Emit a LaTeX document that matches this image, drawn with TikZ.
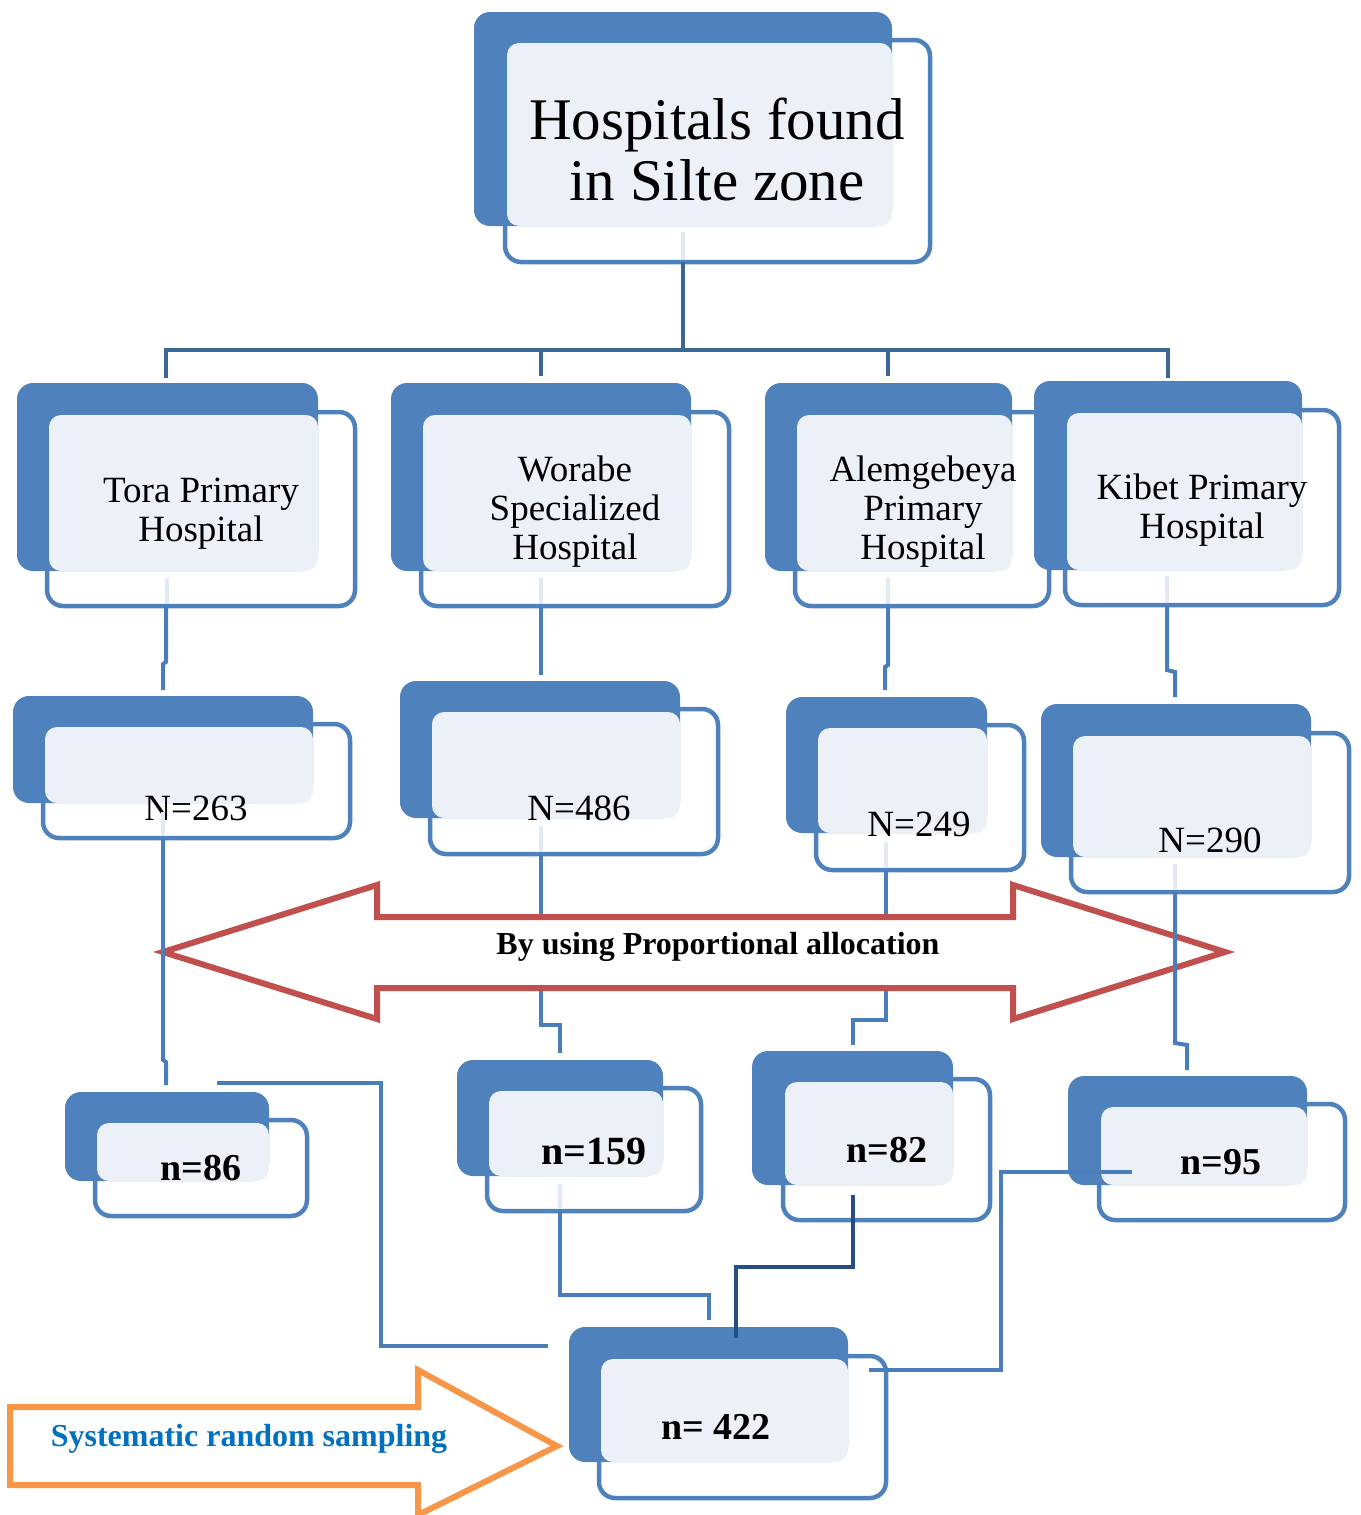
\documentclass[tikz,border=0pt]{standalone}
\usepackage{fontspec}
\setmainfont{Liberation Serif}
\definecolor{accent}{HTML}{4F81BD}
\definecolor{lightbg}{HTML}{ECF1F8}
\definecolor{faint}{HTML}{E2E9F3}
\definecolor{conn}{HTML}{4A7EBB}
\definecolor{conndark}{HTML}{3B6797}
\definecolor{conndeep}{HTML}{254E85}
\definecolor{redarrow}{HTML}{C0504D}
\definecolor{orangearrow}{HTML}{F79646}
\definecolor{textblue}{HTML}{0070C0}
\newcommand\pairbox[9]{%
  \node[obox, minimum width={(#8-#6)*1pt}, minimum height={(#9-#7)*1pt}, anchor=north west] (#1) at (#6,#7) {};
  \node[dbox, minimum width={(#4-#2)*1pt}, minimum height={(#5-#3)*1pt}, anchor=north west] (#1-d) at (#2,#3) {};
  \fill[lightbg, rounded corners=12pt] (#6+2,#7+3) rectangle (#4,#5);
}
\begin{document}
\begin{tikzpicture}[x=1pt,y=-1pt,
  obox/.style={draw=accent, line width=4.5pt, fill=white, rounded corners=16pt, inner sep=0pt, outer sep=0pt},
  dbox/.style={fill=accent, draw=none, rounded corners=16pt, inner sep=0pt, outer sep=0pt},
  connector/.style={draw=conn, line width=4pt},
  connectortop/.style={draw=conndark, line width=4pt},
  faintseg/.style={draw=faint, line width=4pt},
  txt/.style={inner sep=0pt, outer sep=0pt, text=black},
  hosp/.style={txt, font=\fontsize{37}{39}\selectfont, align=center, anchor=base},
  bign/.style={txt, font=\fontsize{37}{39}\selectfont, anchor=base},
  smalln/.style={txt, font=\bfseries\fontsize{38}{40}\selectfont, anchor=base},
  bigarrow/.style={line width=6pt, fill=white, line join=miter}
]
\useasboundingbox (0,0) rectangle (1360,1515);

% ---------- top level ----------
\pairbox{top}{474}{12}{892}{226}{505}{40}{930}{262}
\node[txt, font=\fontsize{59}{61}\selectfont, align=center, anchor=base] (top-t) at (717,200) {Hospitals found\\in Silte zone};
\draw[faintseg] (683,232) -- (683,260);

% ---------- hospitals ----------
\pairbox{tora}{17}{383}{318}{571}{47}{412}{355}{606}
\pairbox{worabe}{391}{383}{691}{571}{421}{412}{729}{606}
\pairbox{alem}{765}{383}{1012}{571}{795}{412}{1049}{606}
\pairbox{kibet}{1034}{381}{1302}{570}{1065}{410}{1339}{605}
\node[hosp] (tora-t) at (201,541) {Tora Primary\\Hospital};
\node[hosp] (worabe-t) at (575,559) {Worabe\\Specialized\\Hospital};
\node[hosp] (alem-t) at (923,559) {Alemgebeya\\Primary\\Hospital};
\node[hosp] (kibet-t) at (1202,538) {Kibet Primary\\Hospital};
\draw[faintseg] (167,578) -- (167,604);
\draw[faintseg] (541,578) -- (541,604);
\draw[faintseg] (888,578) -- (888,604);
\draw[faintseg] (1167,576) -- (1167,603);

% top tree
\coordinate (bar) at (683,350);
\draw[connectortop] (683,262) -- (bar);
\draw[connectortop, line cap=rect] (166,376) |- (1168,350) -- (1168,376);
\draw[connectortop] (541,350) -- (541,376);
\draw[connectortop] (888,350) -- (888,376);

% ---------- N boxes ----------
\pairbox{n263}{13}{696}{313}{803}{43}{724}{350}{838}
\pairbox{n486}{400}{681}{680}{818}{430}{709}{718}{854}
\pairbox{n249}{786}{697}{987}{833}{816}{725}{1024}{870}
\pairbox{n290}{1041}{704}{1311}{857}{1071}{733}{1349}{892}
\node[bign] (n263-t) at (196,820) {N=263};
\node[bign] (n486-t) at (579,820) {N=486};
\node[bign] (n249-t) at (919,836) {N=249};
\node[bign] (n290-t) at (1210,852) {N=290};
\draw[faintseg] (163,812) -- (163,836);
\draw[faintseg] (541,826) -- (541,852);
\draw[faintseg] (886,842) -- (886,868);
\draw[faintseg] (1175,864) -- (1175,890);

% hospital -> N
\draw[connector] (tora.south -| 166,0) -- (166,662) -- (163,664) -- (163,690);
\draw[connector] (worabe.south -| 541,0) -- (541,675);
\draw[connector] (alem.south -| 888,0) -- (888,665) -- (885,667) -- (885,690);
\draw[connector] (kibet.south -| 1167,0) -- (1167,670) -- (1175,672) -- (1175,697);

% ---------- n boxes ----------
\pairbox{s86}{65}{1092}{269}{1181}{95}{1120}{307}{1216}
\pairbox{s159}{457}{1060}{663}{1176}{487}{1088}{701}{1211}
\pairbox{s82}{752}{1051}{953}{1185}{783}{1079}{990}{1220}
\pairbox{s95}{1068}{1076}{1307}{1185}{1099}{1104}{1345}{1220}
\pairbox{total}{569}{1327}{848}{1462}{599}{1356}{886}{1498}
\node[smalln] (s86-t) at (201,1180) {n=86};
\node[txt, font=\bfseries\fontsize{40}{42}\selectfont, anchor=base] (s159-t) at (594,1164) {n=159};
\node[smalln] (s82-t) at (887,1162) {n=82};
\node[smalln] (s95-t) at (1221,1174) {n=95};
\node[smalln] (total-t) at (716,1439) {n= 422};
\draw[faintseg] (560,1184) -- (560,1209);

% N -> n (middle ones, behind the arrow)
\draw[connector] (n486.south -| 541,0) -- (541,1025) -- (560,1025) -- (560,1053);
\draw[connector] (n249.south -| 886,0) -- (886,1020) -- (853,1020) -- (853,1045);

% red double arrow
\draw[bigarrow, draw=redarrow] (163,952) -- (377,885) -- (377,917) -- (1013,917) -- (1013,885)
  -- (1225,952) -- (1013,1019) -- (1013,988) -- (377,988) -- (377,1019) -- cycle;
\node[txt, font=\bfseries\fontsize{32}{34}\selectfont, anchor=base] (alloc) at (718,954) {By using Proportional allocation};

% N -> n (outer ones, over the arrow)
\draw[connector] (n263.south -| 163,0) -- (163,1060) -- (166,1062) -- (166,1085);
\draw[connector] (n290.south -| 1175,0) -- (1175,1043) -- (1187,1045) -- (1187,1070);

% n -> total
\coordinate (j86) at (217,1083);
\draw[connector] (j86) -- (381,1083) -- (381,1346) -- (548,1346);
\draw[connector] (s159.south -| 560,0) -- (560,1295) -- (709,1295) -- (709,1320);
\draw[draw=conndeep, line width=4pt] (853,1195) -- (853,1267) -- (736,1267) -- (736,1338);
\coordinate (j95) at (1132,1172);
\draw[connector] (j95) -- (1001,1172) -- (1001,1370) -- (869,1370);

% orange arrow
\draw[bigarrow, draw=orangearrow] (10,1407) -- (418,1407) -- (418,1370) -- (557,1446)
  -- (418,1515) -- (418,1485) -- (10,1485) -- cycle;
\node[txt, text=textblue, font=\bfseries\fontsize{32}{34}\selectfont, anchor=base] (srs) at (249,1446) {Systematic random sampling};
\end{tikzpicture}
\end{document}
